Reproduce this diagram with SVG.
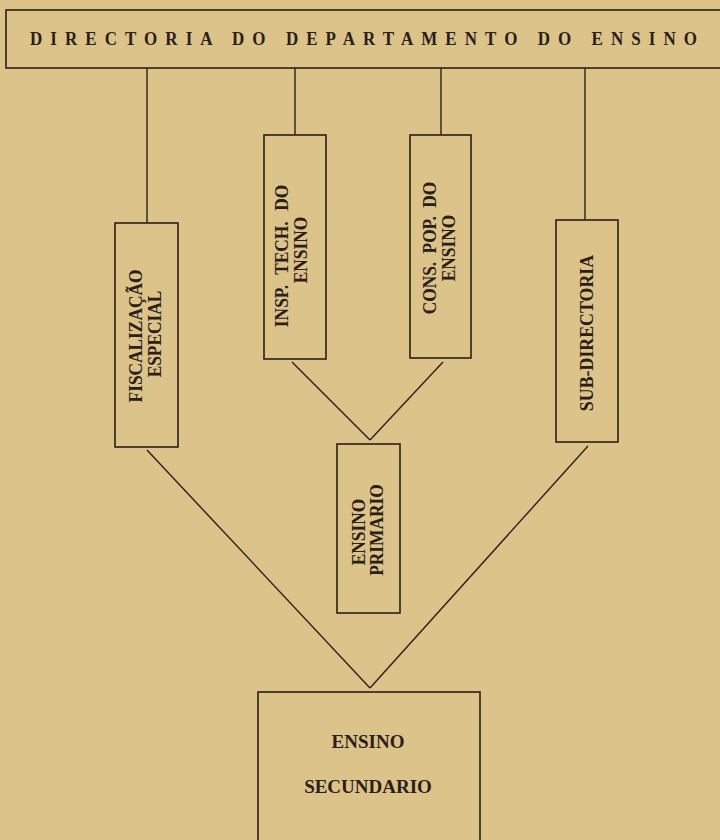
<svg xmlns="http://www.w3.org/2000/svg" width="720" height="840" viewBox="0 0 720 840">
<defs>
<style>
.bg{fill:#dcc38a}
.box{fill:none;stroke:#2a2018;stroke-width:1.6}
.ln{stroke:#2a2018;stroke-width:1.4;fill:none}
.t{font-family:"Liberation Serif","DejaVu Serif",serif;font-weight:bold;fill:#2a2018;font-size:17px}
.v{text-anchor:middle}
</style>
</defs>
<rect class="bg" x="0" y="0" width="720" height="840"/>
<g id="directoria">
<rect class="box" x="6" y="10" width="730" height="58"/>
<text class="t" x="30" y="45" style="font-size:17px" transform="translate(0,45) scale(1,1.15) translate(0,-45)" textLength="667" lengthAdjust="spacing">DIRECTORIA DO DEPARTAMENTO DO ENSINO</text>
</g>
<g id="connectors">
<line class="ln" x1="147" y1="68" x2="147" y2="223"/>
<line class="ln" x1="295" y1="68" x2="295" y2="135"/>
<line class="ln" x1="441" y1="68" x2="441" y2="135"/>
<line class="ln" x1="585" y1="68" x2="585" y2="220"/>
<line class="ln" x1="292" y1="362" x2="370" y2="440"/>
<line class="ln" x1="443" y1="362" x2="370" y2="440"/>
<line class="ln" x1="147" y1="450" x2="370" y2="688"/>
<line class="ln" x1="588" y1="446" x2="370" y2="688"/>
</g>
<g id="fiscalizacao">
<rect class="box" x="115" y="223" width="63" height="224"/>
<text class="t v" transform="translate(142,336) rotate(-90) scale(1.02,1.15)">FISCALIZAÇÃO</text>
<text class="t v" transform="translate(161,334) rotate(-90) scale(1.02,1.15)">ESPECIAL</text>
</g>
<g id="insp">
<rect class="box" x="264" y="135" width="62" height="224"/>
<text class="t v" transform="translate(288,256) rotate(-90) scale(1.02,1.15)" word-spacing="6">INSP. TECH. DO</text>
<text class="t v" transform="translate(307,250) rotate(-90) scale(1.02,1.15)">ENSINO</text>
</g>
<g id="cons">
<rect class="box" x="410" y="135" width="61" height="223"/>
<text class="t v" transform="translate(436,248) rotate(-90) scale(1.02,1.15)" word-spacing="4">CONS. POP. DO</text>
<text class="t v" transform="translate(455,248) rotate(-90) scale(1.02,1.15)">ENSINO</text>
</g>
<g id="subdirectoria">
<rect class="box" x="556" y="220" width="62" height="222"/>
<text class="t v" transform="translate(593,333) rotate(-90) scale(1.05,1.15)">SUB-DIRECTORIA</text>
</g>
<g id="primario">
<rect class="box" x="337" y="444" width="63" height="169"/>
<text class="t v" transform="translate(365,532) rotate(-90) scale(1.02,1.15)">ENSINO</text>
<text class="t v" transform="translate(383,530) rotate(-90) scale(1.02,1.15)">PRIMARIO</text>
</g>
<g id="secundario">
<rect class="box" x="258" y="692" width="222" height="160"/>
<text class="t v" x="368" y="748" style="font-size:19px">ENSINO</text>
<text class="t v" x="368" y="793" style="font-size:19px">SECUNDARIO</text>
</g>
</svg>
